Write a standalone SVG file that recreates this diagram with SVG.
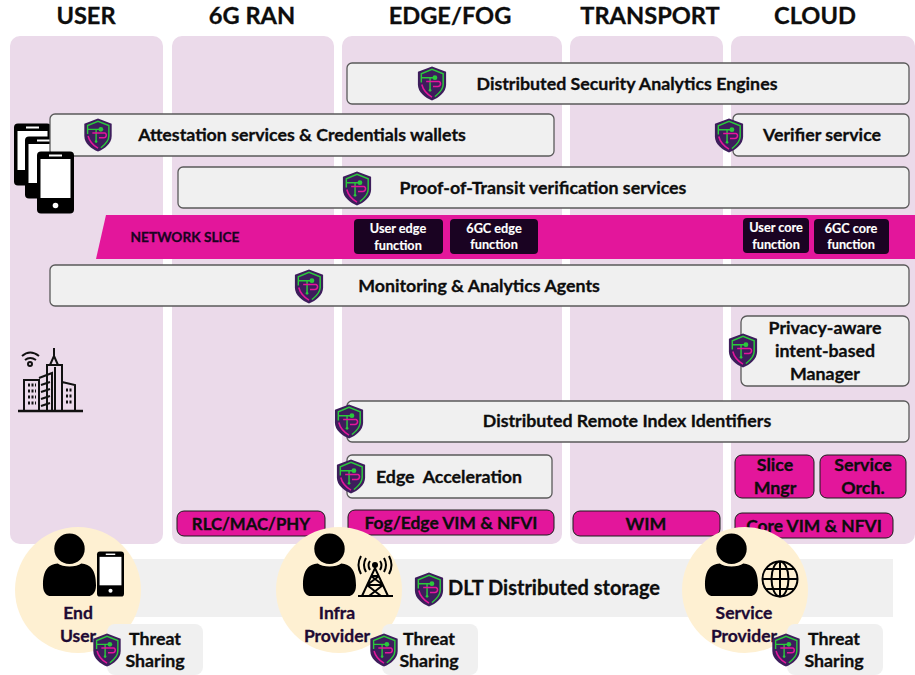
<svg xmlns="http://www.w3.org/2000/svg" xmlns:xlink="http://www.w3.org/1999/xlink" width="915" height="675" viewBox="0 0 915 675">
<style>
text{font-family:"Lato","Liberation Sans",sans-serif;font-weight:700;text-anchor:middle;fill:#0d0d0d;stroke:#0d0d0d;stroke-width:.3px}
.h{font-size:23.600px}
.b{font-size:17.800px}
.c{font-size:17.500px;fill:#1e0a33;stroke:#1e0a33}
.s{font-size:12.700px;fill:#fff;stroke:#fff;stroke-width:.15px}
.col{fill:#ebdaea}
.box{fill:#f0f0f0;stroke:#5a5a5a;stroke-width:1.300}
.pink{fill:#e3169b;stroke:#1a1a1a;stroke-width:1}
.dark{fill:#1a0322}
.ts{fill:#f0f0f0}
.circ{fill:#fef0d2}
</style>
<defs>
<symbol id="shield" viewBox="0 0 30 36" overflow="visible">
<path d="M15 0.500 L29.500 6 V19 C29.500 27 22 32.500 15 35.500 C8 32.500 0.500 27 0.500 19 V6Z" fill="#3d1d5c"/>
<path d="M4 17 V8 L15 3.500 L26.500 8 V19 C26.500 25 21 29 18 31.500" fill="none" stroke="#2bc93c" stroke-width="1.500"/>
<path d="M4 12 H19 M13 12 V25" fill="none" stroke="#2bc93c" stroke-width="1.500"/>
<path d="M9 16 H22 C24.500 16 24.500 21 21 21 H16 M4.500 19 C6 25 10 29 15 32" fill="none" stroke="#e3169b" stroke-width="1.600"/>
<circle cx="18" cy="12" r="2.500" fill="#2bc93c"/><circle cx="13" cy="25" r="1.400" fill="#2bc93c"/>
</symbol>
<symbol id="phone" viewBox="0 0 37 62" overflow="visible">
<rect x="0" y="0" width="37" height="62" rx="4" fill="#000"/>
<rect x="3.500" y="7.500" width="30" height="39" fill="#fff"/>
<circle cx="18.500" cy="54" r="2.800" fill="#fff"/>
<rect x="12" y="3" width="13" height="2" fill="#fff"/>
</symbol>
<symbol id="person" viewBox="0 0 54 64" overflow="visible">
<circle cx="27" cy="15" r="15.500" fill="#000"/>
<path d="M0 52 C0 36 6 31 15 30 C20 34 34 34 39 30 C48 31 54 36 54 52 C54 60 50 63 46 63 H8 C4 63 0 60 0 52Z" fill="#000"/>
</symbol>
</defs>

<g id="columns">
<rect class="col" x="10" y="36" width="153" height="508" rx="10"/>
<rect class="col" x="172" y="36" width="162" height="508" rx="10"/>
<rect class="col" x="342" y="36" width="220" height="508" rx="10"/>
<rect class="col" x="570" y="36" width="153" height="508" rx="10"/>
<rect class="col" x="731" y="36" width="184" height="508" rx="10"/>
</g>
<g id="headers">
<text class="h" x="86" y="24">USER</text>
<text class="h" x="252" y="24">6G RAN</text>
<text class="h" x="450" y="24">EDGE/FOG</text>
<text class="h" x="650" y="24">TRANSPORT</text>
<text class="h" x="815" y="24">CLOUD</text>
</g>

<g id="dlt">
<rect x="100" y="559" width="793" height="58" fill="#f0f0f0"/>
<use href="#shield" x="414" y="572" width="30" height="35"/>
<text x="554" y="595" style="font-size:20px">DLT Distributed storage</text>
</g>

<g id="phones">
<use href="#phone" x="14" y="123" width="37" height="63"/>
<use href="#phone" x="25" y="136" width="37" height="63"/>
</g>
<g id="attestation">
<rect class="box" x="50" y="114" width="504" height="42" rx="5"/>
<use href="#shield" x="83" y="118" width="30" height="34"/>
<text class="b" x="302" y="141">Attestation services &amp; Credentials wallets</text>
</g>
<use id="phone-front" href="#phone" x="37" y="151" width="37" height="63"/>

<g id="analytics-engines">
<rect class="box" x="347" y="63" width="562" height="41" rx="5"/>
<use href="#shield" x="417" y="66" width="30" height="35"/>
<text class="b" x="627" y="90">Distributed Security Analytics Engines</text>
</g>
<g id="verifier">
<rect class="box" x="733" y="114" width="176" height="42" rx="5"/>
<use href="#shield" x="714" y="118" width="30" height="35"/>
<text class="b" x="822" y="141">Verifier service</text>
</g>
<g id="pot">
<rect class="box" x="178" y="167" width="731" height="41" rx="5"/>
<use href="#shield" x="342" y="171" width="30" height="35"/>
<text class="b" x="543" y="194">Proof-of-Transit verification services</text>
</g>

<g id="slice">
<path d="M106 215 H915 V259 H96Z" fill="#e3169b"/>
<text x="185" y="242" style="font-size:13.700px;fill:#1a0322;stroke:#1a0322">NETWORK SLICE</text>
<rect class="dark" x="354" y="219" width="89" height="35" rx="4"/>
<text class="s" x="398" y="233">User edge</text><text class="s" x="398" y="250">function</text>
<rect class="dark" x="450" y="219" width="88" height="35" rx="4"/>
<text class="s" x="494" y="233">6GC edge</text><text class="s" x="494" y="249">function</text>
<rect class="dark" x="743" y="218" width="66" height="35" rx="4"/>
<text class="s" x="776" y="232">User core</text><text class="s" x="776" y="249">function</text>
<rect class="dark" x="814" y="219" width="75" height="35" rx="4"/>
<text class="s" x="851" y="233">6GC core</text><text class="s" x="851" y="249">function</text>
</g>

<g id="monitoring">
<rect class="box" x="50" y="265" width="859" height="41" rx="5"/>
<use href="#shield" x="294" y="269" width="30" height="35"/>
<text class="b" x="479" y="292">Monitoring &amp; Analytics Agents</text>
</g>
<g id="intent">
<rect class="box" x="741" y="316" width="168" height="70" rx="6"/>
<use href="#shield" x="728" y="333" width="30" height="35"/>
<text class="b" x="825" y="334">Privacy-aware</text>
<text class="b" x="825" y="357">intent-based</text>
<text class="b" x="825" y="380">Manager</text>
</g>
<g id="city" fill="none" stroke="#111" stroke-width="2">
<path d="M18 411 H83" stroke-width="2.400"/>
<path d="M24 411 V380 H39 V411 M39 378 L52 373 V411 M47 411 V365 H62 V411 M50 365 L54 356 L58 365 M54 356 V348 M62 382 L75 385 V411"/>
<path d="M28 385 H36 M28 391 H36 M28 397 H36 M28 403 H36 M66 390 H73 M66 396 H73 M66 402 H73" stroke-width="3" stroke-dasharray="2 1.500"/>
<path d="M41 385 L50 382 M41 392 L50 389 M41 399 L50 396 M41 406 L50 403 M55 367 V411"/>
<path d="M22 356 Q30 349 39 356 M25 360 Q30 356 36 360"/>
<circle cx="30" cy="364" r="2"/>
</g>
<g id="dri">
<rect class="box" x="347" y="401" width="562" height="41" rx="5"/>
<use href="#shield" x="334" y="404" width="30" height="35"/>
<text class="b" x="627" y="427">Distributed Remote Index Identifiers</text>
</g>
<g id="acceleration">
<rect class="box" x="347" y="455" width="205" height="43" rx="5"/>
<use href="#shield" x="336" y="459" width="30" height="35"/>
<text class="b" x="449" y="483" xml:space="preserve">Edge  Acceleration</text>
</g>
<g id="slice-mngr">
<rect class="pink" x="735" y="455" width="79" height="43" rx="7"/>
<text class="b" x="775" y="471">Slice</text><text class="b" x="775" y="494">Mngr</text>
</g>
<g id="service-orch">
<rect class="pink" x="820" y="455" width="86" height="43" rx="7"/>
<text class="b" x="863" y="471">Service</text><text class="b" x="863" y="494">Orch.</text>
</g>
<g id="rlc"><rect class="pink" x="177" y="511" width="148" height="25" rx="7"/><text class="b" x="251" y="530" style="font-size:16.800px">RLC/MAC/PHY</text></g>
<g id="vim-edge"><rect class="pink" x="348" y="510" width="206" height="25" rx="7"/><text class="b" x="451" y="529" style="font-size:17.400px">Fog/Edge VIM &amp; NFVI</text></g>
<g id="wim"><rect class="pink" x="573" y="511" width="147" height="25" rx="7"/><text class="b" x="646" y="530">WIM</text></g>
<g id="vim-core"><rect class="pink" x="735" y="513" width="158" height="25" rx="7"/><text class="b" x="814" y="532" style="font-size:17.400px">Core VIM &amp; NFVI</text></g>

<g id="end-user">
<circle class="circ" cx="78" cy="590" r="63"/>
<use href="#person" x="43" y="534" width="53" height="63"/>
<use href="#phone" x="97" y="551" width="27" height="46"/>
<text class="c" x="78" y="619">End</text><text class="c" x="78" y="642">User</text>
</g>
<g id="infra-provider">
<circle class="circ" cx="339" cy="590" r="63"/>
<use href="#person" x="303" y="534" width="53" height="63"/>
<g fill="none" stroke="#000" stroke-width="2">
<path d="M358 596 H393 M362 596 L375 568 L388 596 M367 585 H383 M371 576 H379 M367 585 L381 596 M383 585 L369 596 M371 576 L383 585 M379 576 L367 585"/>
<path d="M366 572 Q362 565 366 558 M370 570 Q367 565 370 561 M384 572 Q388 565 384 558 M380 570 Q383 565 380 561 M361 574 Q356 565 361 556 M389 574 Q394 565 389 556"/>
</g>
<circle cx="375" cy="565" r="3" fill="#000"/>
<text class="c" x="337" y="619">Infra</text><text class="c" x="337" y="642">Provider</text>
</g>
<g id="service-provider">
<circle class="circ" cx="745" cy="590" r="63"/>
<use href="#person" x="705" y="534" width="53" height="63"/>
<g fill="none" stroke="#000" stroke-width="2">
<circle cx="780" cy="579" r="17.500"/><ellipse cx="780" cy="579" rx="8.500" ry="17.500"/>
<path d="M780 561 V597 M762 579 H798 M765 569 H795 M765 589 H795"/>
</g>
<text class="c" x="744" y="619">Service</text><text class="c" x="744" y="642">Provider</text>
</g>
<g id="threat-1">
<rect class="ts" x="107" y="624" width="96" height="51" rx="8"/>
<use href="#shield" x="92" y="633" width="30" height="34"/>
<text class="b" x="155" y="645">Threat</text><text class="b" x="155" y="667">Sharing</text>
</g>
<g id="threat-2">
<rect class="ts" x="382" y="624" width="96" height="51" rx="8"/>
<use href="#shield" x="369" y="633" width="30" height="34"/>
<text class="b" x="429" y="645">Threat</text><text class="b" x="429" y="667">Sharing</text>
</g>
<g id="threat-3">
<rect class="ts" x="787" y="624" width="96" height="51" rx="8"/>
<use href="#shield" x="771" y="633" width="30" height="34"/>
<text class="b" x="834" y="645">Threat</text><text class="b" x="834" y="667">Sharing</text>
</g>
</svg>
